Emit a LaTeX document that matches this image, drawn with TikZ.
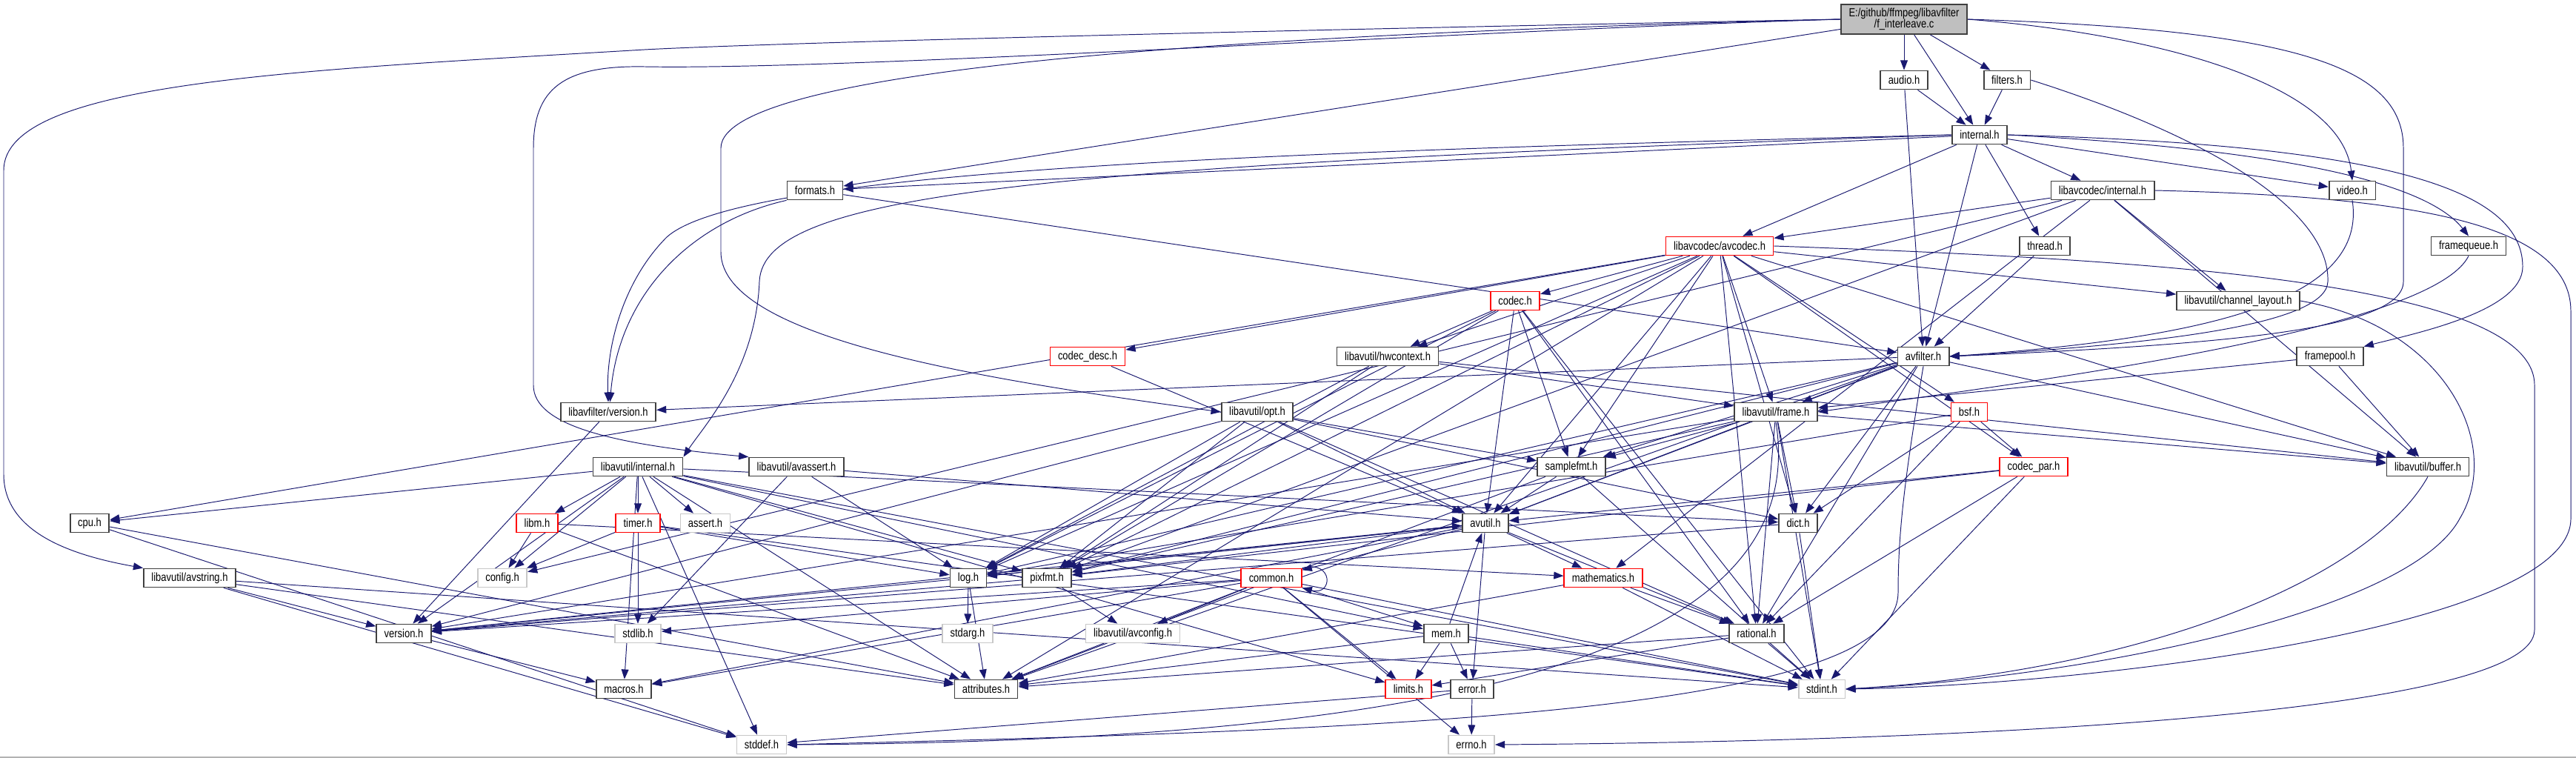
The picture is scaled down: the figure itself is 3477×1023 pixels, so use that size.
\documentclass[tikz,border=0pt]{standalone}
\usepackage{fontspec}
\newfontfamily\narrowsans{Liberation Sans}[FakeStretch=0.82]
\usetikzlibrary{arrows.meta}
\definecolor{edgecol}{HTML}{191970}
\definecolor{nodeborder}{HTML}{404040}
\definecolor{lightborder}{HTML}{C8C8C8}
\definecolor{rootfill}{HTML}{BFBFBF}
\pgfdeclarelayer{back}
\pgfdeclarelayer{bg}
\pgfsetlayers{back,bg,main}
\begin{document}
\begin{tikzpicture}[x=0.02cm,y=-0.02cm,
  box/.style={draw=nodeborder, line width=1.0pt, fill=white, minimum height=0.5cm, inner xsep=0.21cm, inner ysep=0pt, font=\narrowsans\fontsize{9}{8.6}\selectfont, text=black},
  redbox/.style={box, draw=red},
  graybox/.style={box, draw=lightborder},
  edg/.style={draw=edgecol, line width=0.55pt, -{Triangle[length=7.5pt,width=5.6pt]}}
]
\useasboundingbox (0,0) rectangle (3477,1023);
\begin{pgfonlayer}{back}
\fill[white] (0,0) rectangle (3477,1023);
\draw[lightborder!70!gray, line width=0.6pt] (0,1022) -- (3477,1022);
\end{pgfonlayer}

% nodes
\node[box, fill=rootfill, minimum height=0.8cm, align=center] (R) at (2570,26) {E:/github/ffmpeg/libavfilter\\/f\_interleave.c};
\node[box] (audio) at (2570,108) {audio.h};
\node[box] (filters) at (2709,108) {filters.h};
\node[box] (internal) at (2672,182) {internal.h};
\node[box] (lavcint) at (2838,257) {libavcodec/internal.h};
\node[box] (video) at (3175,257) {video.h};
\node[box] (thread) at (2760,332) {thread.h};
\node[box] (framequeue) at (3332,332) {framequeue.h};
\node[box] (formats) at (1100,257) {formats.h};
\node[redbox] (avcodec) at (2321,332) {libavcodec/avcodec.h};
\node[redbox] (codec) at (2045,406) {codec.h};
\node[redbox] (codecdesc) at (1468,481) {codec\_desc.h};
\node[box] (hwcontext) at (1873,481) {libavutil/hwcontext.h};
\node[box] (avfilter) at (2596,481) {avfilter.h};
\node[box] (chlayout) at (3021,406) {libavutil/channel\_layout.h};
\node[box] (framepool) at (3145,481) {framepool.h};
\node[redbox] (bsf) at (2658,556) {bsf.h};
\node[redbox] (codecpar) at (2745,630) {codec\_par.h};
\node[box] (buffer) at (3277,630) {libavutil/buffer.h};
\node[box] (frame) at (2397,556) {libavutil/frame.h};
\node[box] (samplefmt) at (2121,630) {samplefmt.h};
\node[box] (lavfiver) at (821,556) {libavfilter/version.h};
\node[box] (opt) at (1697,556) {libavutil/opt.h};
\node[box] (lavuint) at (861,630) {libavutil/internal.h};
\node[box] (avassert) at (1075,630) {libavutil/avassert.h};
\node[box] (cpu) at (121,706) {cpu.h};
\node[box] (avstring) at (256,780) {libavutil/avstring.h};
\node[box] (version) at (545,855) {version.h};
\node[box] (macros) at (842,930) {macros.h};
\node[graybox] (config) at (678,780) {config.h};
\node[redbox] (libm) at (725,706) {libm.h};
\node[redbox] (timer) at (861,706) {timer.h};
\node[graybox] (stdlib) at (861,855) {stdlib.h};
\node[graybox] (assert) at (952,706) {assert.h};
\node[box] (log) at (1307,780) {log.h};
\node[box] (pixfmt) at (1413,780) {pixfmt.h};
\node[redbox] (common) at (1716,780) {common.h};
\node[graybox] (stdarg) at (1306,855) {stdarg.h};
\node[graybox] (avconfig) at (1529,855) {libavutil/avconfig.h};
\node[box] (attributes) at (1331,930) {attributes.h};
\node[graybox] (stddef) at (1028,1005) {stddef.h};
\node[box] (avutil) at (2005,706) {avutil.h};
\node[box] (dict) at (2427,706) {dict.h};
\node[redbox] (mathematics) at (2164,780) {mathematics.h};
\node[box] (mem) at (1952,855) {mem.h};
\node[box] (rational) at (2371,855) {rational.h};
\node[redbox] (limits) at (1901,930) {limits.h};
\node[box] (error) at (1987,930) {error.h};
\node[graybox] (stdint) at (2459,930) {stdint.h};
\node[graybox] (errno) at (1986,1005) {errno.h};

\begin{pgfonlayer}{bg}
% straight connectors
\foreach \a/\b in {
 R/audio, R/filters, R/internal, R/formats,
 audio/internal, audio/avfilter, filters/internal,
 internal/lavcint, internal/thread, internal/video, internal/avcodec, internal/avfilter, internal/formats,
 formats/avfilter, thread/avfilter, framepool/buffer, framepool/frame,
 lavcint/avcodec, lavcint/chlayout, lavcint/buffer, lavcint/mathematics, lavcint/pixfmt, lavcint/config,
 avcodec/samplefmt, avcodec/attributes, avcodec/avutil, avcodec/buffer, avcodec/cpu, avcodec/chlayout,
 avcodec/dict, avcodec/frame, avcodec/hwcontext, avcodec/log, avcodec/pixfmt, avcodec/rational,
 avcodec/bsf, avcodec/codec, avcodec/codecdesc, avcodec/codecpar,
 codec/stdint, codec/avutil, codec/hwcontext, codec/log, codec/pixfmt, codec/rational, codec/samplefmt,
 codecdesc/avutil,
 hwcontext/buffer, hwcontext/frame, hwcontext/log, hwcontext/pixfmt,
 avfilter/attributes, avfilter/avutil, avfilter/buffer, avfilter/dict, avfilter/frame, avfilter/log,
 avfilter/samplefmt, avfilter/pixfmt, avfilter/rational, avfilter/lavfiver,
 bsf/dict, bsf/log, bsf/rational, bsf/codecpar,
 codecpar/stdint, codecpar/avutil, codecpar/rational, codecpar/pixfmt,
 frame/stdint, frame/avutil, frame/buffer, frame/dict, frame/rational, frame/samplefmt, frame/pixfmt, frame/version,
 samplefmt/stdint, samplefmt/avutil, samplefmt/attributes,
 lavfiver/version,
 opt/rational, opt/avutil, opt/dict, opt/log, opt/pixfmt, opt/samplefmt, opt/version,
 lavuint/limits, lavuint/stdint, lavuint/stddef, lavuint/assert, lavuint/config, lavuint/attributes,
 lavuint/timer, lavuint/cpu, lavuint/dict, lavuint/macros, lavuint/mem, lavuint/pixfmt, lavuint/version, lavuint/libm,
 avassert/stdlib, avassert/avutil, avassert/log,
 cpu/stddef, cpu/attributes,
 avstring/stddef, avstring/stdint, avstring/attributes, avstring/version,
 version/macros,
 libm/config, libm/attributes, libm/mathematics,
 timer/config, timer/stdlib, timer/stdint, timer/log,
 log/stdarg, log/avutil, log/attributes, log/version,
 pixfmt/avconfig, pixfmt/version,
 common/errno, common/limits, common/stdint, common/stdlib, common/attributes, common/macros,
 common/version, common/avconfig, common/mem,
 avutil/common, avutil/error, avutil/version, avutil/mathematics, avutil/rational, avutil/log,
 avutil/pixfmt, avutil/macros,
 dict/stdint, dict/version,
 mathematics/stdint, mathematics/attributes, mathematics/rational,
 mem/limits, mem/stdint, mem/attributes, mem/error, mem/avutil,
 rational/stdint, rational/limits, rational/attributes,
 error/errno, error/stddef}
 \draw[edg] (\a) -- (\b);

% routed connectors
\draw[edg] (R.west) .. controls (1500,45) and (1000,60) .. (870,67) .. controls (400,95) and (5,110) .. (5,230) -- (5,640) .. controls (5,720) and (100,750) .. (avstring.north west);
\draw[edg] (R.west) .. controls (2000,40) and (1150,95) .. (870,90) .. controls (760,88) and (720,120) .. (720,200) -- (720,520) .. controls (720,575) and (830,600) .. (avassert.north west);
\draw[edg] (R.west) .. controls (1700,45) and (973,90) .. (973,200) -- (973,340) .. controls (973,460) and (1350,515) .. (opt.west);
\draw[edg] (R.east) .. controls (2900,45) and (3160,110) .. (video.north);
\draw[edg] (R.east) .. controls (3100,40) and (3244,90) .. (3244,200) -- (3244,380) .. controls (3244,445) and (3000,465) .. (avfilter.east);
\draw[edg] (internal.east) .. controls (3200,195) and (3405,250) .. (3405,360) .. controls (3405,420) and (3260,450) .. (framepool.north east);
\draw[edg] (internal.east) .. controls (3050,200) and (3270,240) .. (framequeue.north);
\draw[edg] (internal.west) .. controls (1700,205) and (1000,230) .. (900,320) .. controls (840,380) and (818,470) .. (lavfiver.north);
\draw[edg] (formats.south west) .. controls (930,300) and (835,400) .. (lavfiver.80);
\draw[edg] (internal.west) .. controls (1400,225) and (1030,260) .. (1025,380) .. controls (1020,500) and (950,575) .. (lavuint.north east);
\draw[edg] (video.south) .. controls (3195,400) and (3000,455) .. (avfilter.east);
\draw[edg] (filters.east) .. controls (3000,190) and (3145,290) .. (3142,380) .. controls (3140,440) and (2900,465) .. (avfilter.east);
\draw[edg] (framequeue.south) .. controls (3280,450) and (2700,520) .. (frame.east);
\draw[edg] (lavcint.east) .. controls (3250,265) and (3470,300) .. (3470,420) -- (3470,700) .. controls (3470,850) and (2800,925) .. (stdint.east);
\draw[edg] (avcodec.east) .. controls (2900,350) and (3421,380) .. (3421,520) -- (3421,850) .. controls (3421,960) and (2700,1000) .. (errno.east);
\draw[edg] (chlayout.east) .. controls (3300,440) and (3380,600) .. (3320,700) .. controls (3250,830) and (2800,915) .. (stdint.east);
\draw[edg] (buffer.south) .. controls (3200,780) and (2900,905) .. (stdint.east);
\draw[edg] (avfilter.south) .. controls (2570,650) and (2562,720) .. (2562,800) .. controls (2560,960) and (1900,985) .. (stddef.east);
\draw[edg] (frame.south) .. controls (2450,900) and (1900,1000) .. (stddef.east);
\draw[edg] (common.north east) .. controls (1800,755) and (1800,805) .. (common.south east);
\end{pgfonlayer}
\end{tikzpicture}
\end{document}
